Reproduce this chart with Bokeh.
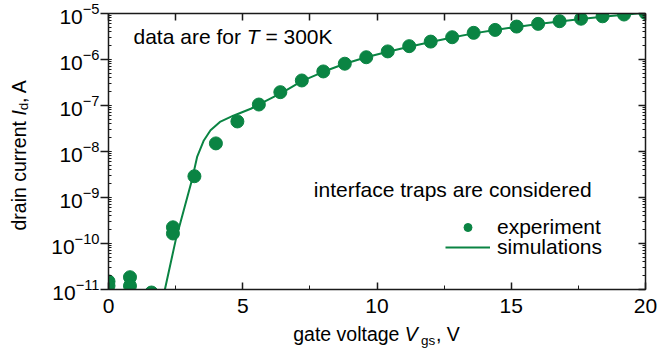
import math
from bokeh.plotting import figure
from bokeh.layouts import row, column
from bokeh.models import (Range1d, LinearAxis, LogAxis, SingleIntervalTicker,
                          LogTicker, Label, Legend, LegendItem, CustomJSTickFormatter)
from bokeh.embed import file_html
from bokeh.resources import INLINE

GREEN = "#0a8443"
FONT = "Liberation Sans"
AXC = "#1a1a1a"

# experiment (gate voltage, V ; drain current, A)
exp_vgs = [0.0, 0.0, 0.8, 0.8, 1.6, 2.4, 2.4, 3.2, 4.0, 4.8, 5.6, 6.4, 7.2, 8.0,
           8.8, 9.6, 10.4, 11.2, 12.0, 12.8, 13.6, 14.4, 15.2, 16.0, 16.8,
           17.6, 18.4, 19.2, 20.0]
exp_id = [1.5e-11, 1.2e-11, 1.85e-11, 1.2e-11, 8.6e-12, 2.25e-10, 1.65e-10,
          2.9e-9, 1.5e-8, 4.5e-8, 1.05e-7, 1.95e-7, 3.5e-7, 5.5e-7,
          8.1e-7, 1.12e-6, 1.5e-6, 1.95e-6, 2.45e-6, 3.05e-6, 3.8e-6, 4.4e-6,
          5.2e-6, 5.95e-6, 6.8e-6, 7.7e-6, 8.7e-6, 9.5e-6, 1.03e-5]

# simulations
sim_vgs = [2.0, 2.1, 2.5, 2.8, 3.1, 3.3, 3.55, 3.8, 4.15, 4.65, 5.3, 5.9, 6.5,
           7.2, 8.0, 8.8, 9.6, 10.4, 11.2, 12.0, 12.8, 13.6, 14.4, 15.2, 16.0,
           16.8, 17.6, 18.4, 19.2, 20.0]
sim_id = [5.4e-12, 1.0e-11, 1.17e-10, 5.2e-10, 2.3e-9, 7.6e-9, 1.74e-8, 2.9e-8,
          4.4e-8, 6.0e-8, 8.5e-8, 1.29e-7, 1.95e-7, 3.4e-7, 5.4e-7, 8.1e-7,
          1.12e-6, 1.48e-6, 1.9e-6, 2.4e-6, 3.0e-6, 3.7e-6, 4.4e-6, 5.1e-6,
          5.9e-6, 6.7e-6, 7.6e-6, 8.5e-6, 9.4e-6, 1.04e-5]

x_lim = (0, 20)
y_lim = (1e-11, 1e-5)

YLAB_W = 40
XLAB_H = 40
MAIN_W = 658 - YLAB_W
MAIN_H = 362 - XLAB_H
FRAME_L, FRAME_R, FRAME_T, FRAME_B = 108, 645, 13, 289

p = figure(width=MAIN_W, height=MAIN_H, x_range=Range1d(*x_lim),
           y_range=Range1d(*y_lim), y_axis_type="log", output_backend="svg",
           toolbar_location=None, min_border_left=FRAME_L - YLAB_W,
           min_border_right=658 - FRAME_R, min_border_top=FRAME_T,
           min_border_bottom=MAIN_H - FRAME_B)
p.outline_line_color = None
p.grid.visible = False
p.background_fill_color = "white"
p.border_fill_color = "white"

r_sim = p.line(sim_vgs, sim_id, line_width=2, color=GREEN)
r_exp = p.scatter(exp_vgs, exp_id, size=13, color=GREEN)

# bottom axis
xa = p.xaxis[0]
xa.ticker = SingleIntervalTicker(interval=5, num_minor_ticks=2)
xa.major_tick_in = 7
xa.major_tick_out = 0
xa.minor_tick_in = 4
xa.minor_tick_out = 0
xa.major_label_standoff = 9
xa.major_label_text_font = FONT
xa.major_label_text_font_size = "21px"
xa.major_label_text_color = "black"

# left axis
ya = p.yaxis[0]
ya.ticker = LogTicker(num_minor_ticks=10)
ya.major_tick_in = 0
ya.major_tick_out = 8
ya.minor_tick_in = 3
ya.minor_tick_out = 0
ya.major_label_standoff = 1
ya.major_label_text_font = FONT
ya.major_label_text_font_size = "21px"
ya.major_label_text_color = "black"

for ax in (xa, ya):
    ax.axis_line_color = AXC
    ax.axis_line_width = 1.5
    ax.major_tick_line_color = AXC
    ax.major_tick_line_width = 1.5
    ax.minor_tick_line_color = AXC
    ax.minor_tick_line_width = 1

top = LinearAxis(ticker=SingleIntervalTicker(interval=2.5, num_minor_ticks=0),
                 formatter=CustomJSTickFormatter(code="return '';"),
                 major_tick_in=7, major_tick_out=0, minor_tick_in=0, minor_tick_out=0,
                 major_label_standoff=0,
                 axis_line_color=AXC, axis_line_width=1.5,
                 major_tick_line_color=AXC, major_tick_line_width=1.5)
p.add_layout(top, "above")
right = LogAxis(ticker=LogTicker(num_minor_ticks=10),
                formatter=CustomJSTickFormatter(code="return '';"),
                major_tick_in=7, major_tick_out=0, minor_tick_in=3, minor_tick_out=0,
                major_label_standoff=0,
                axis_line_color=AXC, axis_line_width=1.5,
                major_tick_line_color=AXC, major_tick_line_width=1.5,
                minor_tick_line_color=AXC, minor_tick_line_width=1)
p.add_layout(right, "right")


def lab(fig, text, x, y, size="21px", style="normal", angle=0.0, units="screen"):
    fig.add_layout(Label(x=x, y=y, x_units=units, y_units=units, text=text,
                         text_font=FONT, text_font_size=size, text_font_style=style,
                         text_color="black", text_baseline="alphabetic",
                         text_align="left", angle=angle))


# annotations inside the frame
lab(p, "data are for", 25, 253)
lab(p, "T", 138.2, 253, style="italic")
lab(p, "= 300K", 156.9, 253)
lab(p, "interface traps are considered", 205.3, 100.3)


def one_legend(label, rend, y):
    return Legend(items=[LegendItem(label=label, renderers=[rend])],
                  location=(337, y), glyph_width=45, glyph_height=20,
                  label_height=20, spacing=0, label_standoff=7, padding=0,
                  margin=0, border_line_color=None, background_fill_alpha=0,
                  label_text_font=FONT, label_text_font_size="21px",
                  label_text_color="black")


p.add_layout(one_legend("experiment", r_exp, 50))
p.add_layout(one_legend("simulations", r_sim, 30))


def text_panel(w, h, xr, yr):
    f = figure(width=w, height=h, x_range=Range1d(*xr), y_range=Range1d(*yr),
               output_backend="svg", toolbar_location=None, min_border=0,
               x_axis_location=None, y_axis_location=None)
    f.outline_line_color = None
    f.grid.visible = False
    f.background_fill_color = "white"
    f.border_fill_color = "white"
    return f


# x axis title panel (its frame is aligned with the main frame horizontally)
xl = text_panel(MAIN_W, XLAB_H, (FRAME_L, FRAME_R), (0, XLAB_H))
T = "19.5px"
lab(xl, "gate voltage", 292.7, 29, size=T, units="data")
lab(xl, "V", 404.3, 29, size=T, style="italic", units="data")
lab(xl, "gs", 420.5, 21.7, size="13.5px", units="data")
lab(xl, ", V", 435.5, 29, size=T, units="data")

# y axis title panel (rotated)
yl = text_panel(YLAB_W, 362, (0, YLAB_W), (0, 362))
A = math.pi / 2
lab(yl, "drain current", 18, 132, size=T, angle=A, units="data")
lab(yl, "I", 18, 246.9, size=T, style="italic", angle=A, units="data")
lab(yl, "d", 23, 252.3, size="13.5px", angle=A, units="data")
lab(yl, ", A", 18, 259.5, size=T, angle=A, units="data")

layout = row(yl, column(p, xl, spacing=0), spacing=0)
open("out.html", "w").write(file_html(layout, INLINE))
